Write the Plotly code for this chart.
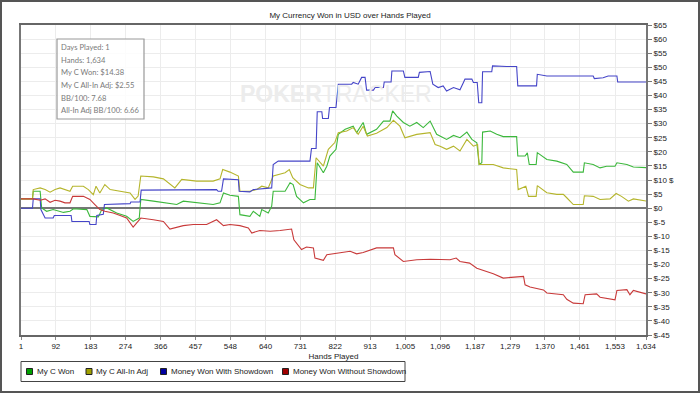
import plotly.graph_objects as go

# ---------------- data ----------------
x_ticks = [1, 92, 183, 274, 366, 457, 548, 640, 731, 822, 913, 1005, 1096,
           1187, 1279, 1370, 1461, 1553, 1634]
x_ticktext = ["1", "92", "183", "274", "366", "457", "548", "640", "731", "822",
              "913", "1,005", "1,096", "1,187", "1,279", "1,370", "1,461",
              "1,553", "1,634"]
y_ticks = list(range(-45, 70, 5))
y_ticktext = ["$" + str(v) for v in y_ticks]

won_hands = [1, 3, 31, 33, 51, 55, 68, 85, 112, 129, 138, 173, 181, 203, 212, 225,
             251, 277, 294, 310, 314, 347, 373, 408, 425, 469, 503, 521, 530, 547,
             569, 573, 599, 608, 625, 630, 647, 656, 660, 691, 704, 712, 721, 739,
             756, 769, 775, 791, 800, 808, 824, 830, 848, 869, 878, 895, 904, 930,
             948, 965, 972, 983, 1000, 1017, 1035, 1052, 1070, 1087, 1105, 1113,
             1131, 1148, 1166, 1179, 1192, 1198, 1205, 1207, 1227, 1244, 1261,
             1296, 1299, 1318, 1324, 1329, 1347, 1350, 1375, 1401, 1427, 1444,
             1470, 1473, 1496, 1514, 1531, 1553, 1558, 1584, 1601, 1634]
won_vals = [3.3, 3.3, 3.3, 6.0, 6.0, 0.1, -1.1, -0.5, -1.5, -1.1, -0.2, -0.5, -2.9,
            -3.1, -0.5, 0.1, -1.7, -2.9, -4.7, -3.5, 3.1, 2.5, 1.9, 1.3, 2.5, 1.9,
            1.3, 1.9, 5.4, 4.6, 4.2, -2.3, -2.9, -1.1, -2.9, -0.5, -1.7, 0.7, 6.0,
            6.0, 9.0, 8.4, 4.2, 1.9, 3.1, 3.1, 16.1, 12.6, 14.9, 18.5, 20.9, 26.2,
            28.0, 29.1, 26.8, 30.4, 26.2, 28.0, 30.9, 30.9, 34.5, 32.7, 30.4, 29.1,
            30.4, 28.6, 30.9, 26.2, 25.0, 24.4, 25.8, 25.0, 27.0, 24.4, 23.2, 15.5,
            16.1, 27.0, 27.4, 26.2, 25.4, 25.4, 18.5, 18.5, 19.6, 15.5, 15.5, 19.7,
            17.3, 16.7, 15.5, 12.8, 12.8, 16.1, 15.5, 14.3, 14.9, 14.9, 16.1, 15.5,
            14.6, 14.38]

adj_hands = [1, 3, 31, 33, 51, 64, 77, 90, 103, 129, 136, 164, 177, 190, 197, 207,
             220, 234, 260, 286, 299, 307, 314, 347, 373, 403, 421, 460, 503, 521,
             528, 547, 569, 573, 599, 617, 630, 647, 660, 691, 702, 711, 730, 752,
             765, 772, 791, 804, 821, 830, 852, 869, 882, 895, 906, 930, 957, 974,
             991, 1004, 1035, 1070, 1083, 1096, 1113, 1131, 1148, 1166, 1183, 1194,
             1198, 1235, 1261, 1296, 1300, 1320, 1327, 1347, 1350, 1375, 1401, 1418,
             1427, 1444, 1470, 1473, 1496, 1514, 1540, 1556, 1570, 1588, 1601, 1634]
adj_vals = [3.3, 3.3, 3.3, 6.6, 7.2, 6.6, 5.7, 6.6, 7.2, 6.0, 7.8, 7.8, 6.6, 4.8,
            7.8, 5.4, 8.4, 6.6, 6.0, 5.4, 3.1, 4.3, 11.4, 11.1, 10.4, 7.2, 10.2, 9.6,
            9.6, 10.4, 13.7, 12.8, 11.4, 6.0, 6.0, 6.6, 7.8, 7.2, 11.4, 12.6, 13.7,
            10.8, 8.4, 7.2, 7.2, 17.9, 14.9, 20.9, 23.3, 26.8, 27.4, 28.6, 26.2,
            29.1, 25.6, 26.6, 28.6, 31.2, 29.1, 25.0, 26.2, 26.8, 22.6, 22.0, 20.9,
            22.0, 20.3, 24.4, 22.0, 22.6, 15.5, 15.5, 14.3, 13.7, 6.6, 7.8, 4.2,
            4.2, 8.0, 5.5, 4.9, 4.9, 3.7, 1.3, 1.3, 4.4, 4.2, 3.1, 3.3, 5.2, 4.2,
            2.5, 3.3, 2.55]

sd_hands = [1, 31, 33, 51, 53, 64, 85, 88, 132, 134, 179, 181, 197, 199, 216, 219,
            286, 288, 312, 315, 512, 516, 525, 530, 569, 571, 599, 608, 656, 660,
            673, 756, 760, 772, 775, 787, 789, 804, 807, 824, 830, 865, 869, 882,
            891, 900, 904, 922, 926, 948, 950, 968, 970, 1000, 1004, 1039, 1042,
            1070, 1077, 1091, 1104, 1113, 1131, 1148, 1157, 1161, 1179, 1183, 1193,
            1197, 1205, 1207, 1231, 1233, 1270, 1296, 1299, 1348, 1350, 1375, 1496,
            1499, 1522, 1535, 1558, 1560, 1634]
sd_vals = [0.0, 0.0, 3.3, 3.3, -0.5, -3.5, -3.5, -2.6, -2.6, -4.7, -4.7, -5.8, -5.8,
           -2.6, -2.2, 1.3, 1.6, 2.2, 2.2, 6.4, 6.6, 6.0, 6.0, 10.4, 10.1, 6.0, 5.8,
           6.6, 7.2, 15.5, 16.7, 16.7, 21.2, 21.2, 34.2, 34.2, 31.8, 31.8, 35.7,
           35.7, 44.0, 44.0, 44.6, 44.0, 46.4, 46.4, 41.9, 41.9, 42.8, 42.8, 44.8,
           44.8, 48.7, 48.7, 46.4, 46.4, 48.2, 48.5, 44.0, 42.8, 43.4, 41.6, 42.8,
           42.0, 44.6, 45.8, 45.8, 44.6, 44.6, 37.4, 37.4, 48.4, 48.4, 50.5, 50.3,
           50.3, 43.4, 43.4, 47.5, 46.9, 46.9, 46.0, 46.3, 46.9, 46.9, 44.8, 44.8]

nsd_hands = [1, 33, 51, 64, 77, 90, 103, 116, 129, 136, 164, 181, 194, 207, 220,
             242, 260, 277, 294, 303, 314, 347, 373, 390, 408, 425, 451, 486, 512,
             530, 547, 573, 595, 604, 625, 652, 678, 708, 714, 734, 747, 765, 769,
             791, 800, 834, 861, 878, 895, 930, 974, 978, 1000, 1035, 1070, 1122,
             1138, 1148, 1173, 1192, 1235, 1261, 1314, 1318, 1331, 1366, 1375, 1418,
             1427, 1444, 1470, 1475, 1505, 1514, 1553, 1558, 1584, 1592, 1601, 1634]
nsd_vals = [3.3, 3.3, 2.8, 3.3, 2.1, 2.8, 2.5, 1.9, 1.9, 4.2, 4.2, 3.1, 1.3, -0.5,
            -1.1, -1.7, -2.6, -3.5, -6.7, -5.2, -3.5, -4.1, -4.7, -7.4, -6.7, -6.2,
            -5.8, -5.8, -4.1, -6.2, -5.8, -6.2, -7.0, -8.8, -7.9, -8.2, -7.9, -7.4,
            -11.2, -14.7, -13.8, -14.1, -17.7, -18.5, -16.5, -15.9, -15.3, -16.2,
            -15.7, -14.1, -14.1, -16.5, -18.9, -18.3, -18.1, -18.3, -17.7, -18.9,
            -19.5, -21.3, -23.3, -24.8, -24.2, -27.2, -28.0, -29.0, -30.1, -30.7,
            -32.3, -33.7, -33.9, -30.7, -30.4, -31.6, -32.5, -29.2, -28.9, -30.7,
            -29.2, -30.4]

series_names = ["My C Won", "My C All-In Adj", "Money Won With Showdown",
                "Money Won Without Showdown"]
line_colors = ["#3cb83c", "#b5b52c", "#4545c8", "#c83a3a"]
legend_colors = ["#00a000", "#a0a000", "#0000a0", "#a00000"]

info_lines = ["Days Played: 1", "Hands: 1,634", "My C Won: $14.38",
              "My C All-In Adj: $2.55", "BB/100: 7.68", "All-In Adj BB/100: 6.66"]

# ---------------- geometry helpers (pixels -> paper) ----------------
W, H = 700, 393
L, R, T, B = 21, 646, 25, 335


def px(x):
    return (x - L) / (R - L)


def py(y):
    return (B - y) / (B - T)


FONT = "Liberation Sans, Arial"
fig = go.Figure()

data = [(won_hands, won_vals), (adj_hands, adj_vals), (sd_hands, sd_vals),
        (nsd_hands, nsd_vals)]
for (hx, hy), name, col in zip(data, series_names, line_colors):
    fig.add_trace(go.Scatter(x=hx, y=hy, mode="lines", name=name,
                             line=dict(color=col, width=1.1), showlegend=False,
                             hoverinfo="skip"))

fig.update_layout(
    width=W, height=H,
    margin=dict(l=L, r=W - R, t=T, b=H - B, pad=0, autoexpand=False),
    paper_bgcolor="white", plot_bgcolor="white",
    font=dict(family=FONT, size=8, color="#222"),
    title=dict(text="My Currency Won in USD over Hands Played",
               x=0.5, xref="container", xanchor="center",
               y=1 - 15 / H, yref="container", yanchor="middle",
               font=dict(size=8, color="#222")),
    showlegend=False,
    xaxis=dict(range=[1, 1634], tickvals=x_ticks, ticktext=x_ticktext,
               showgrid=True, gridcolor="#ececec", gridwidth=1, automargin=False,
               showline=True, linecolor="#666", linewidth=1.5, mirror=True,
               ticks="outside", ticklen=3, tickcolor="#888",
               zeroline=False, tickfont=dict(size=8, color="#222"),
               title=dict(text="Hands Played", standoff=3,
                          font=dict(size=8, color="#222"))),
    yaxis=dict(range=[-45, 65], tickvals=y_ticks, ticktext=y_ticktext,
               side="right", showgrid=True, gridcolor="#ececec", gridwidth=1,
               automargin=False,
               showline=True, linecolor="#777", linewidth=2, mirror=True,
               ticks="outside", ticklen=4, tickcolor="#777",
               zeroline=True, zerolinecolor="#777", zerolinewidth=1.6,
               tickfont=dict(size=8, color="#222")),
)

# watermark
fig.add_annotation(text="<b>POKER</b>TRACKER", xref="paper", yref="paper",
                   x=px(336), y=py(79), showarrow=False,
                   font=dict(family=FONT, size=23, color="#ececec"))

# info box
fig.add_shape(type="rect", xref="paper", yref="paper",
              x0=px(57), x1=px(144), y0=py(119), y1=py(39),
              line=dict(color="#999", width=1.2), fillcolor="rgba(255,255,255,0.85)")
for i, t in enumerate(info_lines):
    fig.add_annotation(text=t, xref="paper", yref="paper", x=px(59),
                       y=py(47 + i * 12.7), xanchor="left", yanchor="middle",
                       showarrow=False,
                       font=dict(family="Lato, Open Sans", size=7.6, color="#7a7a7a"))

# y-axis unit label
fig.add_annotation(text="$", xref="paper", yref="paper", x=px(676), y=py(181),
                   showarrow=False, font=dict(size=8, color="#222"))

# legend box (drawn manually to match the compact original)
fig.add_shape(type="rect", xref="paper", yref="paper",
              x0=px(21), x1=px(405), y0=py(381.5), y1=py(361.5),
              line=dict(color="#444", width=1), fillcolor="white")
legend_sq_x = [29.5, 89, 163.5, 285.5]
for cx, name, col in zip(legend_sq_x, series_names, legend_colors):
    fig.add_shape(type="rect", xref="paper", yref="paper",
                  x0=px(cx - 3), x1=px(cx + 3), y0=py(374.5), y1=py(368.5),
                  line=dict(color="#222", width=1), fillcolor=col)
    fig.add_annotation(text=name, xref="paper", yref="paper", x=px(cx + 5),
                       y=py(371.5), xanchor="left", yanchor="middle",
                       showarrow=False, font=dict(family=FONT, size=8, color="#222"))

# outer frame
fig.add_shape(type="rect", xref="paper", yref="paper",
              x0=px(1), x1=px(699), y0=py(392), y1=py(1),
              line=dict(color="#555", width=2), fillcolor="rgba(0,0,0,0)")

fig.write_html("out.html", config={"displayModeBar": False},
               post_script="document.body.style.margin='0';"
                           "document.body.style.overflow='hidden';")
